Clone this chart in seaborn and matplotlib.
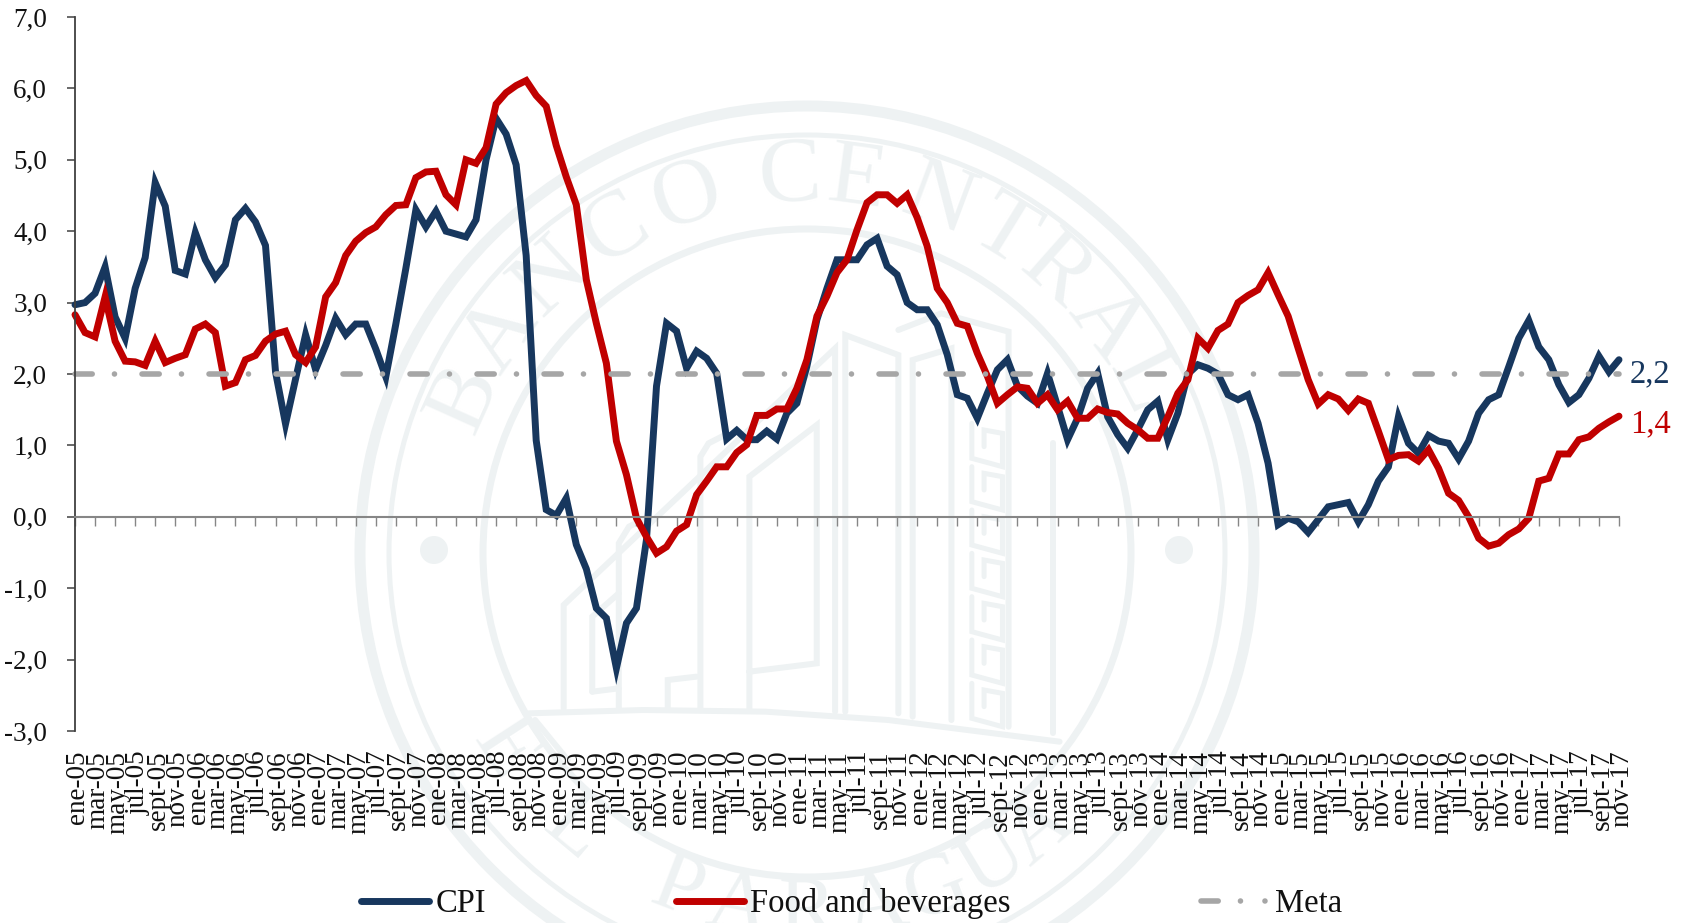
import numpy as np
import pandas as pd
import matplotlib
matplotlib.use("Agg")
import matplotlib.pyplot as plt
from matplotlib.patches import Circle
from matplotlib.transforms import ScaledTranslation
import seaborn as sns

# datos mensuales ene-05 a nov-17
cpi = [2.97, 3.0, 3.13, 3.5, 2.8, 2.5, 3.2, 3.63, 4.68, 4.35,
       3.45, 3.4, 3.98, 3.6, 3.35, 3.53, 4.16, 4.32, 4.13, 3.8,
       2.03, 1.3, 1.93, 2.55, 2.06, 2.4, 2.78, 2.55, 2.7, 2.7,
       2.35, 1.96, 2.7, 3.48, 4.3, 4.06, 4.28, 4.0, 3.96, 3.92,
       4.16, 5.0, 5.58, 5.36, 4.93, 3.66, 1.07, 0.1, 0.02, 0.26,
       -0.39, -0.73, -1.28, -1.42, -2.12, -1.49, -1.28, -0.32, 1.83, 2.71,
       2.6, 2.08, 2.32, 2.22, 2.01, 1.09, 1.21, 1.08, 1.08, 1.2,
       1.09, 1.45, 1.59, 2.11, 2.76, 3.2, 3.6, 3.6, 3.6, 3.81,
       3.9, 3.51, 3.39, 3.0, 2.9, 2.9, 2.69, 2.27, 1.71, 1.66,
       1.38, 1.73, 2.06, 2.2, 1.83, 1.69, 1.59, 2.01, 1.55, 1.08,
       1.38, 1.8, 2.01, 1.4, 1.15, 0.96, 1.22, 1.5, 1.62, 1.08,
       1.45, 2.0, 2.13, 2.08, 2.0, 1.71, 1.64, 1.71, 1.31, 0.75,
       -0.11, -0.02, -0.07, -0.22, -0.04, 0.14, 0.17, 0.2, -0.07, 0.17,
       0.5, 0.7, 1.4, 1.03, 0.89, 1.14, 1.06, 1.03, 0.81, 1.06,
       1.45, 1.64, 1.71, 2.1, 2.5, 2.75, 2.38, 2.2, 1.85, 1.6,
       1.71, 1.94, 2.25, 2.03, 2.2]
alimentos = [2.83, 2.58, 2.52, 3.08, 2.46, 2.18, 2.17, 2.12, 2.46, 2.16,
             2.22, 2.27, 2.63, 2.7, 2.58, 1.83, 1.88, 2.2, 2.26, 2.46,
             2.56, 2.6, 2.27, 2.16, 2.38, 3.08, 3.28, 3.66, 3.86, 3.98,
             4.06, 4.23, 4.36, 4.37, 4.75, 4.83, 4.84, 4.51, 4.37, 5.0,
             4.95, 5.17, 5.78, 5.94, 6.04, 6.11, 5.9, 5.75, 5.2, 4.76,
             4.37, 3.32, 2.71, 2.15, 1.06, 0.59, -0.02, -0.28, -0.51, -0.42,
             -0.2, -0.11, 0.31, 0.5, 0.7, 0.7, 0.9, 1.01, 1.42, 1.42,
             1.51, 1.51, 1.8, 2.2, 2.81, 3.09, 3.42, 3.6, 4.02, 4.4,
             4.51, 4.51, 4.39, 4.51, 4.19, 3.79, 3.2, 3.0, 2.71, 2.67,
             2.29, 1.97, 1.59, 1.71, 1.82, 1.8, 1.59, 1.71, 1.5, 1.62,
             1.38, 1.38, 1.51, 1.46, 1.44, 1.31, 1.22, 1.1, 1.1, 1.4,
             1.73, 1.92, 2.5, 2.36, 2.61, 2.7, 3.0, 3.1, 3.18, 3.42,
             3.11, 2.81, 2.36, 1.92, 1.58, 1.71, 1.65, 1.49, 1.65, 1.59,
             1.2, 0.8, 0.86, 0.87, 0.78, 0.94, 0.68, 0.33, 0.23, 0.0,
             -0.3, -0.41, -0.37, -0.25, -0.17, -0.02, 0.5, 0.54, 0.88, 0.88,
             1.08, 1.12, 1.24, 1.33, 1.41]
meta = [2.0] * len(cpi)

meses = ["ene", "mar", "may", "jul", "sept", "nov"]
anios = ["05", "06", "07", "08", "09", "10", "11", "12", "13", "14", "15", "16", "17"]
x_labels = [f"{m}-{a}" for a in anios for m in meses]
y_ticks = [7, 6, 5, 4, 3, 2, 1, 0, -1, -2, -3]
y_labels = ["7,0", "6,0", "5,0", "4,0", "3,0", "2,0", "1,0", "0,0", "-1,0", "-2,0", "-3,0"]

AZUL = "#17375E"
ROJO = "#C00000"
GRIS = "#A6A6A6"
SELLO = "#EEF2F3"

sns.set_style("white")
plt.rcParams["font.family"] = ["Liberation Serif", "DejaVu Serif"]

W, H = 1690, 923
fig = plt.figure(figsize=(W / 100, H / 100), dpi=100)

# sello de fondo, en pixeles de la figura
bg = fig.add_axes([0, 0, 1, 1], zorder=0)
bg.set_xlim(0, W)
bg.set_ylim(H, 0)
bg.axis("off")
cx, cy = 807, 553
for r, ancho in [(447, 11), (418, 5), (324, 7)]:
    bg.add_patch(Circle((cx, cy), r, fc="none", ec=SELLO, lw=ancho * 0.72))
for px in (434, 1179):
    bg.add_patch(Circle((px, 550), 14, fc=SELLO, ec="none"))


def trazo(puntos, ancho=6):
    xs = [480 + p[0] / 2.45 for p in puntos]
    ys = [280 + p[1] / 3 for p in puntos]
    bg.plot(xs, ys, color=SELLO, lw=ancho * 0.72, solid_joinstyle="miter")


edificio = [
    [(205, 1285), (205, 975), (870, 205), (870, 1295)],
    [(895, 1295), (895, 165), (1025, 225), (1025, 1300)],
    [(1025, 150), (1130, 100), (1295, 155), (1295, 1340)],
    [(1060, 1310), (1060, 240), (1155, 205), (1155, 1320)],
    [(660, 1290), (660, 590), (825, 435), (825, 1150), (660, 1175)],
    [(275, 1235), (275, 1010), (340, 940)],
    [(275, 1235), (340, 1225)],
    [(340, 1285), (340, 790), (365, 740), (405, 715)],
    [(540, 1285), (540, 530), (560, 490), (600, 465)],
    [(460, 1285), (460, 1200), (530, 1190)],
    [(1405, 490), (1405, 1360)],
    [(120, 1300), (400, 1290), (700, 1295), (1000, 1320), (1420, 1385)],
    [(135, 1320), (215, 1440)],
]
for tramo in edificio:
    trazo(tramo)
for y0 in range(430, 1300, 130):
    trazo([(1205, y0), (1205, y0 + 105), (1280, y0 + 130), (1280, y0 + 30), (1235, y0 + 20), (1235, y0 + 70)], 5)

letras_arriba = "BANCO CENTRAL"
angulos_arriba = [-65.7, -54.7, -43, -30.8, -18.6, None, -2.6, 7.7, 20.5, 31.6, 41.5, 52.6, 63]
for letra, a in zip(letras_arriba, angulos_arriba):
    if a is None:
        continue
    ang = np.radians(a)
    bg.text(cx + 375 * np.sin(ang), cy - 375 * np.cos(ang), letra, fontsize=68, color=SELLO,
            rotation=-a, ha="center", va="center", rotation_mode="anchor")
letras_abajo = "EL PARAGUA"
angulos_abajo = [-57, -40, None, -21, -11, 0, 11, 21, 31, 40]
for letra, a in zip(letras_abajo, angulos_abajo):
    if a is None:
        continue
    ang = np.radians(a)
    bg.text(cx + 362 * np.sin(ang), cy + 362 * np.cos(ang), letra, fontsize=62, color=SELLO,
            rotation=a, ha="center", va="center", rotation_mode="anchor")

ax = fig.add_axes([75 / W, (H - 731) / H, 1544 / W, 714 / H], zorder=1)
ax.patch.set_alpha(0)

x = np.arange(len(cpi))
sns.lineplot(x=x, y=cpi, ax=ax, color=AZUL, lw=5, label="CPI", clip_on=False,
             solid_joinstyle="miter", solid_capstyle="round")
sns.lineplot(x=x, y=alimentos, ax=ax, color=ROJO, lw=5, label="Food and beverages", clip_on=False,
             solid_joinstyle="miter", solid_capstyle="round")
sns.lineplot(x=x, y=meta, ax=ax, color=GRIS, lw=4, label="Meta", clip_on=False,
             linestyle=(0, (3.1, 4.0, 0.01, 4.95)), dash_capstyle="round")

ax.set_xlim(0, 154)
ax.set_ylim(-3, 7)
ax.set_xlabel("")
ax.set_ylabel("")

for lado in ("top", "right"):
    ax.spines[lado].set_visible(False)
ax.spines["left"].set_color("#404040")
ax.spines["left"].set_linewidth(1.3)
ax.spines["bottom"].set_position(("data", 0))
ax.spines["bottom"].set_color("#868686")
ax.spines["bottom"].set_linewidth(1.5)

ax.set_yticks(y_ticks)
ax.set_yticklabels(y_labels)
ax.set_xticks(x[::2])
ax.set_xticklabels(x_labels, rotation=90)
ax.tick_params(axis="y", left=True, length=6, width=1.1, color="#404040", pad=14, labelsize=19.5, labelcolor="#111111")
ax.tick_params(axis="x", bottom=True, length=6.5, width=1.0, color="#868686", pad=162, labelsize=19.5, labelcolor="#111111")
desplazo = ScaledTranslation(3 / 100, 0, fig.dpi_scale_trans)
for etiqueta in ax.get_xticklabels():
    etiqueta.set_transform(etiqueta.get_transform() + desplazo)

ax.annotate("2,2", (154, cpi[-1]), xytext=(8, -10.5), textcoords="offset points", color=AZUL,
            fontsize=23.5, ha="left", va="center", annotation_clip=False)
ax.annotate("1,4", (154, alimentos[-1]), xytext=(8, -6), textcoords="offset points", color=ROJO,
            fontsize=23.5, ha="left", va="center", annotation_clip=False)

fs = 23.5
leg = ax.legend(loc="lower left", bbox_to_anchor=(361 / W, 4 / H), bbox_transform=fig.transFigure, ncol=3,
                frameon=False, fontsize=fs, borderpad=0, borderaxespad=0, handlelength=68 * 0.72 / fs,
                handletextpad=6.5 * 0.72 / fs, columnspacing=190 * 0.72 / fs, labelcolor="#111111")
leg.get_lines()[2].set_linestyle((0, (3.1, 4.0, 0.01, 4.4, 0.01, 50)))

fig.savefig("out.png", dpi=100)
